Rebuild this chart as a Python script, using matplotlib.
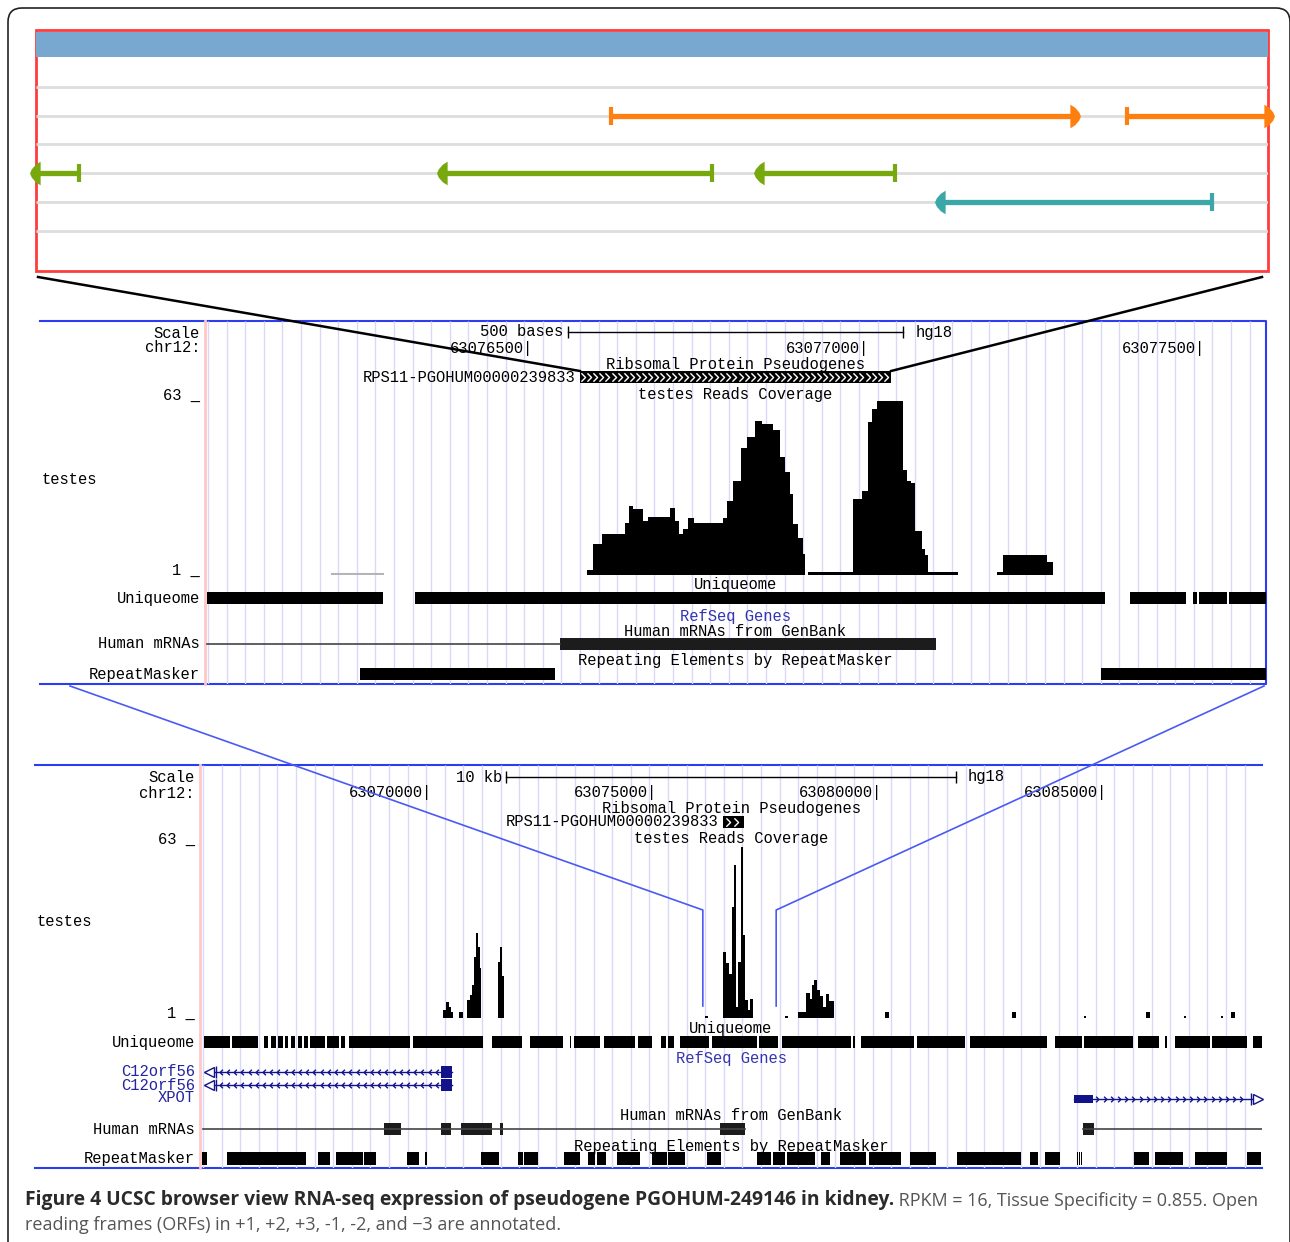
import numpy as np
import matplotlib
matplotlib.use("Agg")
import matplotlib.pyplot as plt
from matplotlib.patches import FancyBboxPatch, Rectangle
from matplotlib.path import Path

W, H = 1290, 1242

# ---- ORF panel: positions in bp from the pseudogene start ----
PSEUDO_LEN = 463
ORF_FRAMES = ["+1", "+2", "+3", "-1", "-2", "-3"]
ORF_FRAME = ["+2", "+2", "-1", "-1", "-1", "-2"]
ORF_START = [216, 410, 0, 153, 272, 340]
ORF_END = [390, 463, 16, 254, 323, 442]
FRAME_COLORS = {"+2": "#FF7F0E", "-1": "#77A80D", "-2": "#3CA7A9"}

# ---- zoomed browser view: bp from chr12:63,076,000 ----
MID_RANGE = (19, 1598)
MID_SCALE_BP = 500
MID_TICKS = [500, 1000, 1500]
MID_TICK_LABELS = ["63076500", "63077000", "63077500"]
PSEUDO = (577, 1040)
MID_COV_POS = [588, 597, 610, 644, 650, 656, 671, 679, 711, 719,
               725, 731, 738, 746, 790, 796, 805, 816, 826, 838,
               848, 865, 875, 882, 890, 894, 902, 909, 912, 917,
               984, 997, 1006, 1012, 1019, 1058, 1063, 1069, 1076, 1086,
               1091, 1095, 1140, 1198, 1207, 1272, 1281]
MID_COV_VAL = [1.8, 11, 14.6, 18.7, 24.9, 23.8, 19.4, 20.9, 24.2, 19.5,
               14.6, 16.5, 20.5, 18.7, 20.5, 26.7, 34, 45.8, 49.8, 55.3,
               54.2, 52.3, 42.5, 37, 29.3, 18.3, 13.2, 7.7, 0, 1,
               27.5, 30.4, 55, 59.7, 62.6, 37.7, 34, 33, 15.7, 9.5,
               7.3, 1, 0, 1, 7.2, 4.8, 0]
MID_LOW_COV = (208, 284)
MID_UNIQ = [(22, 284), (332, 1359), (1396, 1479), (1490, 1496), (1499, 1540), (1543, 1598)]
MID_MRNA = (22, 548)
MID_MRNA_EXONS = [(548, 1107)]
MID_RMSK = [(250, 540), (1353, 1598)]

# ---- wide browser view: kb from chr12:63,065,000 ----
BOT_RANGE = (-0.044, 23.556)
BOT_SCALE_KB = 10
BOT_TICKS = [5, 10, 15, 20]
BOT_TICK_LABELS = ["63070000", "63075000", "63080000", "63085000"]
BOT_PSEUDO = (11.577, 12.040)
ZOOM_MARK_KB = (11.13, 12.76)
BOT_COV_POS = [5.356, 5.422, 5.489, 5.533, 5.578, 5.711, 5.8, 5.889, 5.956, 6.0,
               6.044, 6.089, 6.133, 6.178, 6.2, 6.578, 6.622, 6.667, 6.711, 11.178,
               11.244, 11.578, 11.644, 11.711, 11.778, 11.822, 11.867, 11.911, 11.978, 12.022,
               12.067, 12.133, 12.178, 12.244, 12.956, 13.022, 13.244, 13.422, 13.511, 13.556,
               13.6, 13.667, 13.733, 13.8, 13.867, 13.933, 14.044, 15.18, 15.27, 18.0,
               18.09, 19.6, 19.65, 20.98, 21.07, 21.82, 21.87, 22.64, 22.69, 22.87,
               22.96]
BOT_COV_VAL = [3, 5.8, 4, 2, 0, 2, 0, 6.5, 8.3, 12,
               22, 30.6, 25.5, 18, 0, 20, 25.5, 15, 0, 0.6,
               0, 23.7, 19.8, 16, 40, 55, 4, 20, 61.5, 30,
               6.5, 3, 7, 0, 0.6, 0, 2, 9, 7, 12,
               13.7, 10, 8, 4, 8.5, 6, 0, 2, 0, 2,
               0, 0.6, 0, 2, 0, 0.6, 0, 0.6, 0, 2,
               0]
BOT_UNIQ = [(0.044, 0.622), (0.667, 1.244), (1.378, 1.467), (1.533, 1.644), (1.689, 1.8),
            (1.844, 1.911), (1.978, 2.067), (2.133, 2.222), (2.267, 2.356), (2.4, 2.733),
            (2.778, 3.044), (3.089, 3.178), (3.267, 4.622), (4.689, 6.244), (6.444, 7.111),
            (7.289, 8.022), (8.178, 8.2), (8.267, 8.844), (8.933, 9.622), (9.689, 10.0),
            (10.2, 10.311), (10.356, 10.489), (10.622, 11.267), (11.333, 12.333), (12.378, 12.8),
            (12.889, 14.422), (14.467, 14.511), (14.644, 15.822), (15.889, 16.956), (17.067, 18.778),
            (18.956, 19.556), (19.6, 20.689), (20.8, 21.267), (21.4, 21.444), (21.622, 22.4),
            (22.444, 23.222), (23.356, 23.556)]
GENE_NAMES = ["C12orf56", "C12orf56", "XPOT"]
C12_GENE = (0.067, 5.556)
C12_EXON = (5.311, 5.556)
XPOT_GENE = (19.378, 23.556)
XPOT_EXON = (19.378, 19.8)
BOT_MRNAS = [(0.022, 12.067), (19.578, 23.556)]
BOT_MRNA_EXONS = [(4.044, 4.422), (5.311, 5.533), (5.756, 6.444), (6.622, 6.689),
                  (11.511, 12.067), (19.578, 19.822)]
BOT_RMSK = [(0.0, 0.11), (0.556, 2.311), (2.578, 2.844), (2.978, 3.578), (3.6, 3.867),
            (4.556, 4.822), (4.956, 5.0), (6.2, 6.6), (7.022, 7.133), (7.156, 7.467),
            (8.044, 8.4), (8.578, 8.733), (8.778, 8.978), (9.222, 9.733), (10.0, 10.333),
            (10.356, 10.733), (11.222, 11.533), (12.333, 12.644), (12.689, 12.956), (13.0, 13.622),
            (13.756, 13.956), (14.178, 14.756), (14.822, 15.533), (15.733, 16.311), (16.778, 18.2),
            (18.4, 18.578), (18.733, 19.067), (19.444, 19.467), (19.489, 19.511), (19.533, 19.556),
            (20.711, 21.044), (21.178, 21.8), (22.067, 22.778), (23.222, 23.533)]

CAPTION_BOLD = "Figure 4 UCSC browser view RNA-seq expression of pseudogene PGOHUM-249146 in kidney."
CAPTION_1 = " RPKM = 16, Tissue Specificity = 0.855. Open"
CAPTION_2 = "reading frames (ORFs) in +1, +2, +3, -1, -2, and \u22123 are annotated."

MONO = "Liberation Mono"
FS = 11.2
NAVY = "#12128A"
BLUE = "#2C3CF0"
GRID = "#D8D8F8"
CHEV_R = Path([(-0.5, 1), (0.5, 0), (-0.5, -1)], [Path.MOVETO, Path.LINETO, Path.LINETO])
CHEV_L = Path([(0.5, 1), (-0.5, 0), (0.5, -1)], [Path.MOVETO, Path.LINETO, Path.LINETO])
HEAD_PTS = [(-0.35, 1), (0.05, 0.75), (0.4, 0.35), (0.55, 0), (0.4, -0.35), (0.05, -0.75),
            (-0.35, -1), (-0.35, 1)]
HEAD_R = Path(HEAD_PTS, closed=True)
HEAD_L = Path([(-x, y) for x, y in HEAD_PTS], closed=True)

fig = plt.figure(figsize=(W / 100, H / 100), dpi=100)
bg = fig.add_axes([0, 0, 1, 1])
bg.set_xlim(0, W)
bg.set_ylim(H, 0)
bg.axis("off")


def px_axes(x0, y0, x1, y1, z=1):
    ax = fig.add_axes([x0 / W, 1 - y1 / H, (x1 - x0) / W, (y1 - y0) / H], zorder=z)
    ax.axis("off")
    return ax


def txt(ax, x, y, s, ha="center", color="black", dx=0):
    ax.annotate(s, (x, y), xytext=(dx, 0), textcoords="offset pixels", ha=ha, va="center",
                family=MONO, fontsize=FS, color=color, annotation_clip=False)


def bars(ax, spans, y0, h, color="black"):
    ax.broken_barh([(s, e - s) for s, e in spans], (y0, h), facecolors=color, lw=0)


def grid(ax):
    w = ax.get_position().width * W
    xs = np.arange(3, w, 18.6) / w
    ax.vlines(xs, 0, 1, transform=ax.transAxes, color=GRID, lw=1, zorder=0)


def chevrons(ax, lo, hi, step, y, path, color, ms=5):
    xs = np.arange(lo, hi, step)
    ax.plot(xs, np.full(len(xs), y), ls="none", marker=path, ms=ms, mfc="none",
            mec=color, mew=1)


# ---------- ORF panel ----------
orf = px_axes(36, 30, 1268, 271, z=2)
orf.set_xlim(0, PSEUDO_LEN)
orf.set_ylim(241, 0)
orf.axhspan(2, 27, color="#78A8D0", lw=0)
row_y = 57 + 28.7 * np.arange(len(ORF_FRAMES))
orf.hlines(row_y, 0, PSEUDO_LEN, color="#DDDDDD", lw=2)
for f, s, e in zip(ORF_FRAME, ORF_START, ORF_END):
    y = row_y[ORF_FRAMES.index(f)]
    c = FRAME_COLORS[f]
    fwd = f.startswith("+")
    orf.plot([s, e], [y, y], color=c, lw=3.8, solid_capstyle="butt")
    head, tail = (e, s) if fwd else (s, e)
    orf.plot([tail], [y], marker="|", ms=13, mew=3, color=c, clip_on=False)
    orf.plot([head], [y], marker=HEAD_R if fwd else HEAD_L, ms=17, color=c, mew=0,
             clip_on=False)
bg.add_patch(Rectangle((36, 30), 1232, 241, fill=False, ec="#FF3C3C", lw=2, zorder=5))

# ---------- zoomed browser view ----------
mid = px_axes(205, 321, 1266, 684)
mid.set_xlim(*MID_RANGE)
mid.set_ylim(363, 0)
grid(mid)
c = sum(MID_RANGE) / 2
mid.plot([c - MID_SCALE_BP / 2, c + MID_SCALE_BP / 2], [11, 11], color="black", lw=1,
         marker="|", ms=9)
txt(mid, c - MID_SCALE_BP / 2, 11, "%d bases" % MID_SCALE_BP, ha="right", dx=-4)
txt(mid, c + MID_SCALE_BP / 2, 11, "hg18", ha="left", dx=12)
for t, lab in zip(MID_TICKS, MID_TICK_LABELS):
    txt(mid, t, 27, lab + "|", ha="right", dx=4.8)
txt(mid, c, 44, "Ribsomal Protein Pseudogenes")
bars(mid, [PSEUDO], 50, 12)
chevrons(mid, PSEUDO[0] + 5, PSEUDO[1] - 3, 9, 56, CHEV_R, "white", ms=6)
txt(mid, PSEUDO[0], 56, "RPS11-PGOHUM00000239833", ha="right", dx=-4)
txt(mid, c, 74, "testes Reads Coverage")
mc = px_axes(205, 400, 1266, 575, z=2)
mc.set_xlim(*MID_RANGE)
mc.set_ylim(0, 63)
mc.fill_between(MID_COV_POS, MID_COV_VAL, step="post", color="black", lw=0)
mc.plot(MID_LOW_COV, [0.4, 0.4], color="#B4B4B4", lw=1.5)
txt(mid, c, 264, "Uniqueome")
bars(mid, MID_UNIQ, 271, 12)
txt(mid, c, 295, "RefSeq Genes", color="#3434B0")
txt(mid, c, 311, "Human mRNAs from GenBank")
mid.plot(MID_MRNA, [323, 323], color="#444444", lw=1.2)
bars(mid, MID_MRNA_EXONS, 317, 12, color="#1C1C1C")
txt(mid, c, 340, "Repeating Elements by RepeatMasker")
bars(mid, MID_RMSK, 347, 12)

for s, y in [("Scale", 333), ("chr12:", 348), ("63 _", 395), ("1 _", 570),
             ("Uniqueome", 598), ("Human mRNAs", 644), ("RepeatMasker", 674)]:
    txt(bg, 200, y, s, ha="right")
txt(bg, 42, 479, "testes", ha="left")
bg.plot([40, 1266, 1266, 40], [321, 321, 684, 684], color=BLUE, lw=1.5)
bg.plot([205, 205], [321, 684], color="#FFC8C8", lw=2)

# ---------- wide browser view ----------
bot = px_axes(200, 765, 1262, 1168)
bot.set_xlim(*BOT_RANGE)
bot.set_ylim(403, 0)
grid(bot)
c = sum(BOT_RANGE) / 2
bot.plot([c - BOT_SCALE_KB / 2, c + BOT_SCALE_KB / 2], [12, 12], color="black", lw=1,
         marker="|", ms=9)
txt(bot, c - BOT_SCALE_KB / 2, 12, "%d kb" % BOT_SCALE_KB, ha="right", dx=-4)
txt(bot, c + BOT_SCALE_KB / 2, 12, "hg18", ha="left", dx=12)
for t, lab in zip(BOT_TICKS, BOT_TICK_LABELS):
    txt(bot, t, 28, lab + "|", ha="right", dx=4.8)
txt(bot, c, 44, "Ribsomal Protein Pseudogenes")
bars(bot, [BOT_PSEUDO], 51, 12)
chevrons(bot, BOT_PSEUDO[0] + 0.12, BOT_PSEUDO[1], 0.18, 57, CHEV_R, "white", ms=6)
txt(bot, BOT_PSEUDO[0], 57, "RPS11-PGOHUM00000239833", ha="right", dx=-4)
txt(bot, c, 74, "testes Reads Coverage")
bc = px_axes(200, 843, 1262, 1018, z=2)
bc.set_xlim(*BOT_RANGE)
bc.set_ylim(0, 63)
bc.fill_between(BOT_COV_POS, BOT_COV_VAL, step="post", color="black", lw=0)
txt(bot, c, 264, "Uniqueome")
bars(bot, BOT_UNIQ, 271, 12)
txt(bot, c, 294, "RefSeq Genes", color="#3434B0")
for y in (307, 320):
    bot.plot(C12_GENE, [y, y], color=NAVY, lw=1)
    chevrons(bot, C12_GENE[0] + 0.35, C12_EXON[0], 0.16, y, CHEV_L, NAVY, ms=4)
    bars(bot, [C12_EXON], y - 6, 12, color=NAVY)
    bot.plot([C12_GENE[0] + 0.1], [y], marker="<", ms=7, mfc="white", mec=NAVY, clip_on=False)
    bot.plot([C12_GENE[0] + 0.25], [y], marker="|", ms=8, color=NAVY)
bot.plot(XPOT_GENE, [334, 334], color=NAVY, lw=1)
chevrons(bot, XPOT_EXON[1] + 0.1, XPOT_GENE[1] - 0.3, 0.16, 334, CHEV_R, NAVY, ms=4)
bars(bot, [XPOT_EXON], 330, 8, color=NAVY)
bot.plot([XPOT_GENE[1] - 0.25], [334], marker="|", ms=8, color=NAVY)
bot.plot([XPOT_GENE[1] - 0.1], [334], marker=">", ms=7, mfc="white", mec=NAVY, clip_on=False)
txt(bot, c, 351, "Human mRNAs from GenBank")
for s, e in BOT_MRNAS:
    bot.plot([s, e], [364, 364], color="#444444", lw=1.2)
bars(bot, BOT_MRNA_EXONS, 358, 12, color="#1C1C1C")
txt(bot, c, 381, "Repeating Elements by RepeatMasker")
bars(bot, BOT_RMSK, 387, 13)

for s, y in [("Scale", 778), ("chr12:", 793), ("63 _", 839), ("1 _", 1013),
             ("Uniqueome", 1042), ("Human mRNAs", 1129), ("RepeatMasker", 1158)]:
    txt(bg, 195, y, s, ha="right")
for s, y in zip(GENE_NAMES, (1072, 1085, 1098)):
    txt(bg, 195, y, s, ha="right", color="#2424A0")
txt(bg, 37, 922, "testes", ha="left")
bg.plot([35, 1262], [765, 765], color=BLUE, lw=1.5)
bg.plot([35, 1262], [1168, 1168], color=BLUE, lw=1.5)
bg.plot([200, 200], [765, 1168], color="#FFC8C8", lw=2)

# ---------- connectors, frame, caption ----------
ov = fig.add_axes([0, 0, 1, 1], zorder=10)
ov.set_xlim(0, W)
ov.set_ylim(H, 0)
ov.axis("off")


def to_px(x, lo, hi, x0, x1):
    return x0 + (x - lo) / (hi - lo) * (x1 - x0)


p0 = to_px(PSEUDO[0], *MID_RANGE, 205, 1266)
p1 = to_px(PSEUDO[1], *MID_RANGE, 205, 1266)
ov.plot([38, p0], [277, 371], color="black", lw=1.8)
ov.plot([1262, p1], [277, 371], color="black", lw=1.8)
z0 = to_px(ZOOM_MARK_KB[0], *BOT_RANGE, 200, 1262)
z1 = to_px(ZOOM_MARK_KB[1], *BOT_RANGE, 200, 1262)
ov.plot([70, z0, z0], [686, 910, 1006], color="#4A5AF2", lw=1.2)
ov.plot([1264, z1, z1], [686, 910, 1006], color="#4A5AF2", lw=1.2)

bg.add_patch(FancyBboxPatch((8, 8), 1282, 1260, boxstyle="round,pad=0,rounding_size=14",
                            fill=False, ec="#222222", lw=1.2))

cap_font = ["Liberation Sans Narrow", "Open Sans", "DejaVu Sans"]
t1 = bg.text(25, 1200, CAPTION_BOLD, ha="left", va="center", family=cap_font,
             fontsize=13.85, fontweight="bold", color="#2A2A2A")
bg.annotate(CAPTION_1, xy=(1, 0), xycoords=t1, ha="left", va="bottom", family=cap_font,
            fontsize=13.0, color="#555555")
bg.text(25, 1225, CAPTION_2, ha="left", va="center", family=cap_font, fontsize=13.0,
        color="#555555")

fig.savefig("out.png", dpi=100)
